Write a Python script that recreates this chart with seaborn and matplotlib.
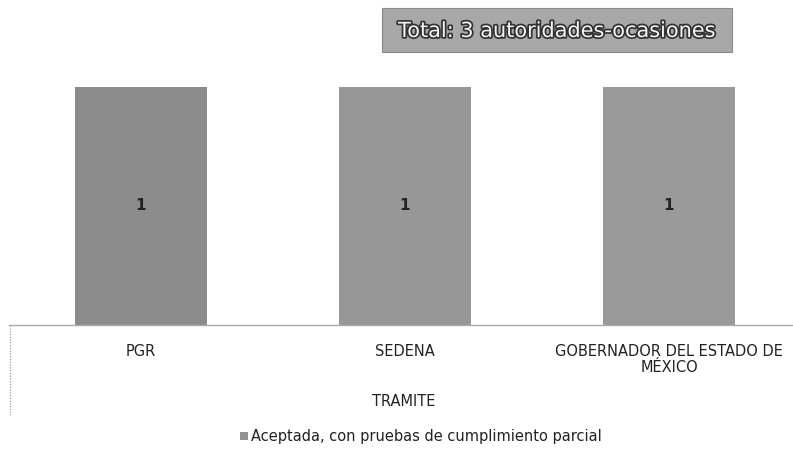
import matplotlib
matplotlib.use("Agg")
import matplotlib.pyplot as plt
import matplotlib.patheffects as pe
import seaborn as sns
import pandas as pd

categories = ["PGR", "SEDENA", "GOBERNADOR DEL ESTADO DE\nMÉXICO"]
values = [1, 1, 1]
series_name = "Aceptada, con pruebas de cumplimiento parcial"
group_label = "TRAMITE"
title_text = "Total: 3 autoridades-ocasiones"

sns.set_theme(style="white")
plt.rcParams['font.family'] = ['DejaVu Sans']

df = pd.DataFrame({"cat": categories, "val": values, "serie": series_name})

fig = plt.figure(figsize=(7.93, 4.49), dpi=100)
W, H = 793, 449
ax = fig.add_axes([9 / W, 1 - 325 / H, 792 / W, (325 - 40) / H])

sns.barplot(data=df, x="cat", y="val", hue="serie", palette=["#929292"],
            width=0.5, ax=ax, legend=False, saturation=1)
bar_cols = ["#8c8c8c", "#979797", "#9a9a9a"]
for p, c in zip(ax.patches, bar_cols):
    p.set_facecolor(c)
    p.set_edgecolor("none")

ymax = 1 / (325 - 87) * (325 - 40)
ax.set_ylim(0, ymax)
ax.set_xlim(-0.5, 2.5)

for p, v in zip(ax.patches, values):
    ax.text(p.get_x() + p.get_width() / 2, v / 2, f"{v}", ha="center", va="center",
            fontsize=11, fontweight="bold", color="#222222")

for s in ["top", "right", "left"]:
    ax.spines[s].set_visible(False)
ax.spines["bottom"].set_color("#aaaaaa")
ax.spines["bottom"].set_linestyle((0, (1, 1)))
ax.spines["bottom"].set_linewidth(1)
ax.set_yticks([])
ax.set_ylabel("")
ax.set_xlabel("")
ax.tick_params(axis="x", length=0, pad=14, labelsize=10.5, colors="#222222")
ax.set_xticks(range(len(categories)))
ax.set_xticklabels(categories, linespacing=1.05, va="top")

# group label
fig.text(404 / W, 1 - 401 / H, group_label, ha="center", va="center", fontsize=10.5, color="#222222")
# left dotted boundary of category box
fig.add_artist(plt.Line2D([10 / W, 10 / W], [1 - 325 / H, 1 - 415 / H], transform=fig.transFigure,
                          color="#aaaaaa", linestyle=(0, (1, 1)), linewidth=1))

# legend
fig.patches.append(plt.Rectangle((240 / W, 1 - 440 / H), 8 / W, 8 / H, transform=fig.transFigure,
                                 facecolor="#929292", edgecolor="none"))
fig.text(251 / W, 1 - 436 / H, series_name, ha="left", va="center", fontsize=10.5, color="#222222")

# title box
fig.patches.append(plt.Rectangle((382 / W, 1 - 52 / H), 350 / W, 44 / H, transform=fig.transFigure,
                                 facecolor="#a8a8a8", edgecolor="#8a8a8a", linewidth=0.8))
fig.text(557 / W, 1 - 31 / H, title_text, ha="center", va="center", fontsize=15, color="#f4f4f4",
         path_effects=[pe.withStroke(linewidth=2.5, foreground="#333333")])

fig.savefig("out.png", dpi=100)
